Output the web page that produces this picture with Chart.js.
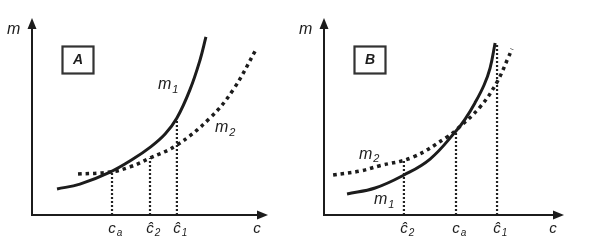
<!DOCTYPE html>
<html>
<head>
<meta charset="utf-8">
<script src="https://cdn.jsdelivr.net/npm/chart.js@4.4.1/dist/chart.umd.min.js"></script>
<style>
  html, body { margin: 0; padding: 0; background: #fff; }
  #wrap { position: relative; width: 596px; height: 242px; overflow: hidden; }
  canvas { position: absolute; top: 0; }
</style>
</head>
<body>
<div id="wrap">
  <canvas id="chartA" width="298" height="242" style="left:0"></canvas>
  <canvas id="chartB" width="304" height="242" style="left:292px"></canvas>
</div>
<script>
// ---- data (c on the x axis, m on the y axis, both 0..100) ----
const m1A_c = [10.6, 20.3, 33.1, 42.8, 50.0, 56.4, 61.4, 66.9, 71.2, 73.7];
const m1A_m = [13.2, 15.7, 21.8, 28.4, 34.3, 41.1, 49.2, 63.5, 78.7, 90.4];
const m2A_c = [19.5, 33.1, 41.5, 50.0, 61.4, 75.4, 85.2, 95.3];
const m2A_m = [20.8, 21.8, 24.4, 28.9, 35.5, 49.2, 63.5, 84.8];

const m1B_c = [9.6, 21.3, 33.3, 44.2, 55.0, 58.8, 62.9, 66.7, 69.2, 71.3];
const m1B_m = [10.7, 13.7, 20.3, 28.4, 42.6, 48.7, 56.9, 66.0, 74.6, 87.3];
const m2B_c = [3.8, 15.0, 22.9, 37.1, 51.3, 55.0, 65.0, 72.1, 76.7, 78.3];
const m2B_m = [20.3, 22.3, 24.9, 29.4, 39.6, 43.1, 54.8, 67.5, 79.7, 84.3];

// dropped lines: where they sit on c and how high they reach
const tickLabelsA = ['c_a', 'ĉ_2', 'ĉ_1'];
const tickValuesA = [33.9, 50.0, 61.4];
const tickTopsA = [21.8, 28.9, 49.2];

const tickLabelsB = ['ĉ_2', 'c_a', 'ĉ_1'];
const tickValuesB = [33.3, 55.0, 72.1];
const tickTopsB = [27.4, 43.1, 87.3];

const curveNames = ['m_1', 'm_2'];
const axisNames = ['c', 'm'];

const INK = '#1c1c1c';
const FONT = '"Liberation Sans", Arial, sans-serif';

function pts(xs, ys) {
  return xs.map((v, i) => ({ x: v, y: ys[i] }));
}

// text with an optional subscript after "_"
function drawSub(ctx, text, x, y, size, centerBase) {
  const parts = text.split('_');
  ctx.font = 'italic ' + size + 'px ' + FONT;
  ctx.textAlign = 'left';
  ctx.textBaseline = 'middle';
  const bw = ctx.measureText(parts[0]).width;
  const x0 = centerBase ? x - bw / 2 : x;
  ctx.fillText(parts[0], x0, y);
  if (parts[1]) {
    ctx.font = 'italic ' + Math.round(size * 0.68) + 'px ' + FONT;
    ctx.fillText(parts[1], x0 + bw + 1, y + size * 0.3);
  }
}

const sketch = {
  id: 'sketch',
  afterDatasetsDraw(chart, args, opts) {
    const { ctx, chartArea: a } = chart;
    const sx = chart.scales.x, sy = chart.scales.y;
    ctx.save();
    ctx.strokeStyle = INK;
    ctx.fillStyle = INK;

    // axes with arrowheads
    ctx.lineWidth = 2;
    ctx.beginPath();
    ctx.moveTo(a.left, a.top + 8);
    ctx.lineTo(a.left, a.bottom);
    ctx.lineTo(a.right - 8, a.bottom);
    ctx.stroke();
    ctx.beginPath();
    ctx.moveTo(a.left, a.top);
    ctx.lineTo(a.left - 4.5, a.top + 11);
    ctx.lineTo(a.left + 4.5, a.top + 11);
    ctx.closePath();
    ctx.fill();
    ctx.beginPath();
    ctx.moveTo(a.right, a.bottom);
    ctx.lineTo(a.right - 11, a.bottom - 4.5);
    ctx.lineTo(a.right - 11, a.bottom + 4.5);
    ctx.closePath();
    ctx.fill();

    // axis names
    drawSub(ctx, axisNames[1], a.left - 25, a.top + 12, 16, false);
    drawSub(ctx, axisNames[0], a.right - 11, a.bottom + 14, 15, true);

    // tick labels under the dropped lines
    opts.ticks.forEach((t, i) => {
      drawSub(ctx, t, sx.getPixelForValue(opts.tickValues[i]), a.bottom + 14, 15, true);
    });

    // curve names
    opts.curveLabels.forEach(l => {
      drawSub(ctx, l.text, sx.getPixelForValue(l.x), sy.getPixelForValue(l.y), 16, false);
    });

    // panel letter box
    const bx = a.left + 30.5, by = a.top + 28.5;
    ctx.lineWidth = 2.2;
    ctx.strokeStyle = '#333';
    ctx.strokeRect(bx, by, 31, 27);
    ctx.font = 'italic bold 14px ' + FONT;
    ctx.textAlign = 'center';
    ctx.textBaseline = 'middle';
    ctx.fillText(opts.letter, bx + 15.5, by + 14);
    ctx.restore();
  }
};

function makePanel(id, m1, m2, tickValues, tickTops, ticks, letter, curveLabels, padRight) {
  const dropped = tickValues.map((v, i) => ({
    data: [{ x: v, y: 0 }, { x: v, y: tickTops[i] }],
    borderColor: '#222',
    borderWidth: 2.2,
    borderDash: [2, 2],
    pointRadius: 0
  }));
  new Chart(document.getElementById(id), {
    type: 'line',
    data: {
      datasets: [
        ...dropped,
        {
          data: m2,
          borderColor: INK,
          borderWidth: 3.5,
          borderDash: [3.5, 4],
          borderCapStyle: 'butt',
          tension: 0.4,
          pointRadius: 0
        },
        {
          data: m1,
          borderColor: INK,
          borderWidth: 3,
          tension: 0.4,
          pointRadius: 0
        }
      ]
    },
    options: {
      responsive: false,
      animation: false,
      layout: { padding: { left: 32, right: padRight, top: 18, bottom: 27 } },
      scales: {
        x: { type: 'linear', min: 0, max: 100, display: false },
        y: { type: 'linear', min: 0, max: 100, display: false }
      },
      plugins: {
        legend: { display: false },
        tooltip: { enabled: false },
        sketch: { ticks, tickValues, letter, curveLabels }
      }
    },
    plugins: [sketch]
  });
}

makePanel('chartA', pts(m1A_c, m1A_m), pts(m2A_c, m2A_m), tickValuesA, tickTopsA, tickLabelsA, 'A',
  [{ text: curveNames[0], x: 53.4, y: 66 }, { text: curveNames[1], x: 77.5, y: 44.2 }], 30);

makePanel('chartB', pts(m1B_c, m1B_m), pts(m2B_c, m2B_m), tickValuesB, tickTopsB, tickLabelsB, 'B',
  [{ text: curveNames[0], x: 20.8, y: 7.6 }, { text: curveNames[1], x: 14.6, y: 30.8 }], 32);
</script>
</body>
</html>
